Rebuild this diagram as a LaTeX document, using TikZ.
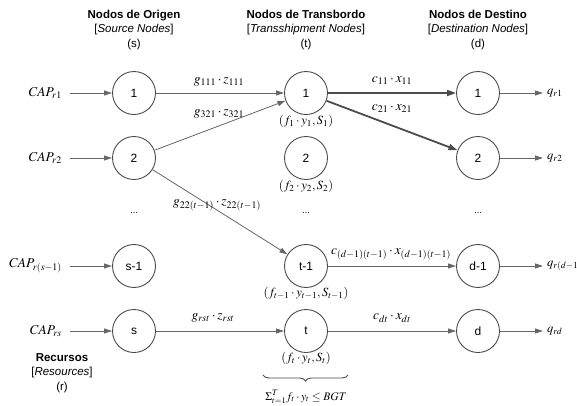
\documentclass[tikz,border=0pt]{standalone}
\usepackage{mathptmx}
\usepackage{fontspec}
\setmainfont{Liberation Sans}
\usetikzlibrary{arrows.meta,decorations.pathreplacing}
\begin{document}
\begin{tikzpicture}[x=1pt,y=-1pt,
  nd/.style={circle,draw=black!70,line width=0.9pt,minimum size=43pt,inner sep=0pt,font=\fontsize{12}{14}\selectfont},
  ar/.style={draw=black!60,line width=0.8pt,-{Triangle[length=8pt,width=5pt]}},
  arthick/.style={draw=black!70,line width=1.8pt,-{Triangle[length=9pt,width=6pt]}},
  hdr/.style={align=center,font=\fontsize{11.5}{14.5}\selectfont},
  el/.style={font=\fontsize{13.5}{15}\selectfont,inner sep=1pt},
  capl/.style={font=\fontsize{13.5}{16}\selectfont,inner ysep=1pt,inner xsep=8pt,anchor=east},
  ql/.style={font=\fontsize{12.5}{15}\selectfont,inner ysep=1pt,inner xsep=4pt,anchor=west},
  sub/.style={font=\fontsize{12.5}{15}\selectfont,inner sep=1pt},
  dots/.style={font=\fontsize{9}{11}\selectfont}]
\useasboundingbox (0,0) rectangle (577,405);
% headers
\node[hdr] (h1) at (134,30) {\textbf{Nodos de Origen}\\{[}\textit{Source Nodes}{]}\\(s)};
\node[hdr] (h2) at (306,30) {\textbf{Nodos de Transbordo}\\{[}\textit{Transshipment Nodes}{]}\\(t)};
\node[hdr] (h3) at (478,30) {\textbf{Nodos de Destino}\\{[}\textit{Destination Nodes}{]}\\(d)};
\node[hdr] (h4) at (62,373) {\textbf{Recursos}\\{[}\textit{Resources}{]}\\(r)};
% source nodes
\node[nd] (s1) at (134,93) {1};
\node[nd] (s2) at (134,158) {2};
\node[nd] (s3) at (134,266) {s-1};
\node[nd] (s4) at (134,331) {s};
% trans nodes
\node[nd] (t1) at (306,93) {1};
\node[nd] (t2) at (306,158) {2};
\node[nd] (t3) at (306,266) {t-1};
\node[nd] (t4) at (306,331) {t};
% dest nodes
\node[nd] (d1) at (478,93) {1};
\node[nd] (d2) at (478,158) {2};
\node[nd] (d3) at (478,266) {d-1};
\node[nd] (d4) at (478,331) {d};
% dots
\node[dots] (o1) at (134,213) {...};
\node[dots] (o2) at (306,213) {...};
\node[dots] (o3) at (478,213) {...};
% CAP labels
\node[capl] (c1) at (70,93) {$CAP_{r1}$};
\node[capl] (c2) at (70,158) {$CAP_{r2}$};
\node[capl] (c3) at (70,266) {$CAP_{r(s-1)}$};
\node[capl] (c4) at (70,331) {$CAP_{rs}$};
% q labels
\node[ql] (q1) at (543,93) {$q_{r1}$};
\node[ql] (q2) at (543,158) {$q_{r2}$};
\node[ql] (q3) at (543,266) {$q_{r(d-1)}$};
\node[ql] (q4) at (543,331) {$q_{rd}$};
% input arrows
\draw[ar] (c1) -- (s1);
\draw[ar] (c2) -- (s2);
\draw[ar] (c3) -- (s3);
\draw[ar] (c4) -- (s4);
% output arrows
\draw[ar] (d1) -- (q1);
\draw[ar] (d2) -- (q2);
\draw[ar] (d3) -- (q3);
\draw[ar] (d4) -- (q4);
% source to trans
\draw[ar] (s1) -- (t1);
\draw[ar] (s2) -- (t1);
\draw[ar] (s2) -- (t3);
\draw[ar] (s4) -- (t4);
% trans to dest
\draw[arthick] (t1) -- (d1);
\draw[arthick] (t1) -- (d2);
\draw[ar] (t3) -- (d3);
\draw[ar] (t4) -- (d4);
% edge labels
\node[el] (l1) at (219,82) {$g_{111}\cdot z_{111}$};
\node[el] (l2) at (219,114) {$g_{321}\cdot z_{321}$};
\node[el] (l3) at (217,205) {$g_{22(t-1)}\cdot z_{22(t-1)}$};
\node[el] (l4) at (213,318) {$g_{rst}\cdot z_{rst}$};
\node[el] (l5) at (392,81) {$c_{11}\cdot x_{11}$};
\node[el] (l6) at (392,109) {$c_{21}\cdot x_{21}$};
\node[el] (l7) at (391,254) {$c_{(d-1)(t-1)}\cdot x_{(d-1)(t-1)}$};
\node[el] (l8) at (392,318) {$c_{dt}\cdot x_{dt}$};
% trans sub labels
\node[sub] (f1) at (306,121) {$(f_1\cdot y_1, S_1)$};
\node[sub] (f2) at (306,186) {$(f_2\cdot y_2, S_2)$};
\node[sub] (f3) at (306,293) {$(f_{t-1}\cdot y_{t-1}, S_{t-1})$};
\node[sub] (f4) at (306,358) {$(f_t\cdot y_t, S_t)$};
% brace
\coordinate (b1) at (263,375);
\coordinate (b2) at (348,375);
\draw[black!70,line width=0.9pt,decorate,decoration={brace,amplitude=6pt}] (b2) -- (b1);
\node[el,font=\fontsize{11.5}{13}\selectfont] (bgt) at (306,397) {$\Sigma_{t=1}^{T} f_t\cdot y_t \le BGT$};
\end{tikzpicture}
\end{document}
